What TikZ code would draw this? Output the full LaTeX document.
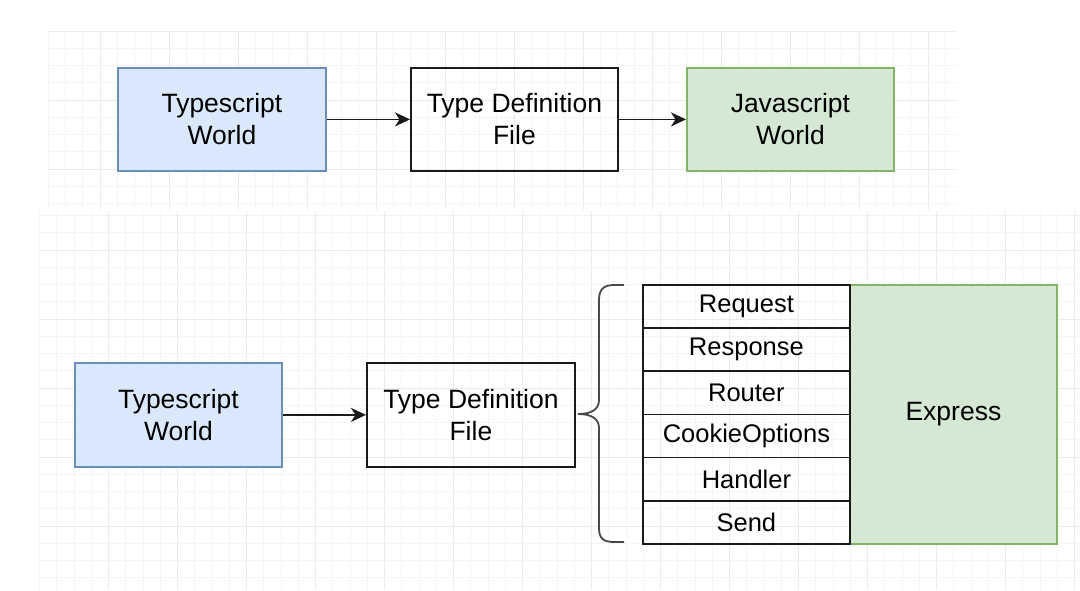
\documentclass[tikz,border=0pt]{standalone}
\usepackage{fontspec}
\setmainfont{Liberation Sans}
\usetikzlibrary{arrows.meta}
\definecolor{tsfill}{HTML}{DAE8FC}
\definecolor{tsline}{HTML}{6C8EBF}
\definecolor{jsfill}{HTML}{D5E8D4}
\definecolor{jsline}{HTML}{82B366}
\definecolor{gminor}{HTML}{F5F5F5}
\definecolor{gmajor}{HTML}{EBEBEB}
\definecolor{ink}{HTML}{1A1A1A}
\begin{document}
\begin{tikzpicture}[x=1pt,y=-1pt,
  box/.style={draw=ink, line width=1.8pt, minimum width=207pt, minimum height=103pt,
    align=center, font=\fontsize{26.5}{32}\selectfont, inner sep=0pt, anchor=north west},
  tsbox/.style={box, fill=tsfill, draw=tsline},
  jsbox/.style={box, fill=jsfill, draw=jsline},
  rowbox/.style={draw=ink, line width=1.8pt, minimum width=207pt, minimum height=43.17pt,
    font=\fontsize{25.5}{30}\selectfont, inner sep=0pt, anchor=north west},
  conn/.style={draw=ink, line width=1.8pt, -{Stealth[length=15pt,width=14pt,inset=4.5pt]}},
  gridminor/.style={draw=gminor, line width=0.8pt},
  gridmajor/.style={draw=gmajor, line width=0.9pt},
  bracestyle/.style={draw=ink!80, line width=1.8pt}]
\useasboundingbox[fill=white] (0,0) rectangle (1080,590);
% top panel grid
\foreach \k in {-3,...,49} {\pgfmathsetmacro\xx{100+17.25*\k}\draw[gridminor] (\xx,31) -- (\xx,210);}
\foreach \k in {-4,...,6} {\pgfmathsetmacro\yy{100+17.25*\k}\draw[gridminor] (48,\yy) -- (957,\yy);}
\foreach \k in {0,...,12} {\pgfmathsetmacro\xx{100+69*\k}\draw[gridmajor] (\xx,31) -- (\xx,210);}
\foreach \k in {-1,...,1} {\pgfmathsetmacro\yy{100+69*\k}\draw[gridmajor] (48,\yy) -- (957,\yy);}
% bottom panel grid
\foreach \k in {-4,...,56} {\pgfmathsetmacro\xx{108.6+17.25*\k}\draw[gridminor] (\xx,211) -- (\xx,590);}
\foreach \k in {-2,...,19} {\pgfmathsetmacro\yy{250+17.25*\k}\draw[gridminor] (39,\yy) -- (1080,\yy);}
\foreach \k in {0,...,14} {\pgfmathsetmacro\xx{108.6+69*\k}\draw[gridmajor] (\xx,211) -- (\xx,590);}
\foreach \k in {0,...,4} {\pgfmathsetmacro\yy{250+69*\k}\draw[gridmajor] (39,\yy) -- (1080,\yy);}

% top row
\node[tsbox, minimum width=208pt] (ts1) at (117,67) {Typescript\\World};
\node[box] (tdf1) at (410,67) {Type Definition\\File};
\node[jsbox] (js1) at (686,67) {Javascript\\World};
\draw[conn] (ts1) -- (tdf1);
\draw[conn] (tdf1) -- (js1);

% bottom row
\node[tsbox, minimum height=104pt] (ts2) at (74,362) {Typescript\\World};
\node[box, minimum width=208pt, minimum height=104pt] (tdf2) at (366,362) {Type Definition\\File};
\draw[conn] (ts2) -- (tdf2);

\node[jsbox, minimum height=259pt] (express) at (849,284) {Express};
\node[rowbox] (r1) at (642,284) {Request};
\node[rowbox] (r2) at (642,327.17) {Response};
\node[rowbox] (r3) at (642,370.33) {Router};
\node[rowbox] (r4) at (642,413.5) {CookieOptions};
\node[rowbox] (r5) at (642,456.67) {Handler};
\node[rowbox] (r6) at (642,499.83) {Send};

% brace
\coordinate (btop) at (624,285);
\coordinate (bbot) at (624,542);
\coordinate (btip) at (578,414);
\draw[bracestyle] (btop) -- (614,285) .. controls (603,285) and (599,290) .. (599,300)
  -- (599,400) .. controls (599,409) and (592,414) .. (btip)
  .. controls (592,414) and (599,419) .. (599,428)
  -- (599,528) .. controls (599,538) and (603,542) .. (614,542) -- (bbot);
\end{tikzpicture}
\end{document}
